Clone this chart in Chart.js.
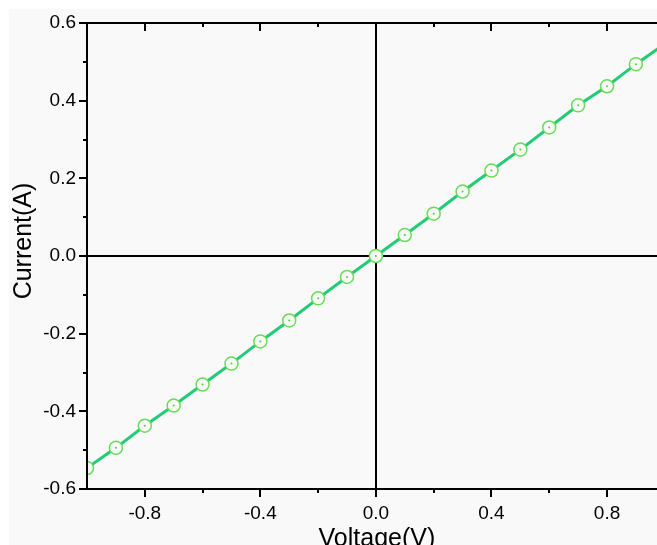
<!DOCTYPE html>
<html>
<head>
<meta charset="utf-8">
<script src="https://cdn.jsdelivr.net/npm/chart.js@4/dist/chart.umd.min.js"></script>
<style>
  html, body { margin: 0; padding: 0; background: #fff; }
  #wrap { width: 657px; height: 545px; position: relative; }
</style>
</head>
<body>
<div id="wrap"><canvas id="ivChart"></canvas></div>
<script>
// values
const voltage = [-1.0, -0.9, -0.8, -0.7, -0.6, -0.5, -0.4, -0.3, -0.2, -0.1, 0.0, 0.1, 0.2, 0.3, 0.4, 0.5, 0.6, 0.7, 0.8, 0.9, 1.0];
const current = [-0.546, -0.494, -0.437, -0.385, -0.331, -0.277, -0.220, -0.166, -0.109, -0.054, 0.0, 0.054, 0.109, 0.166, 0.220, 0.274, 0.331, 0.388, 0.437, 0.494, 0.546];
const hasMarker = [true, true, true, true, true, true, true, true, true, true, true, true, true, true, true, true, true, true, true, true, false];

const xMajor = [-0.8, -0.4, 0.0, 0.4, 0.8];
const xMinor = [-0.6, -0.2, 0.2, 0.6];
const yMajor = [-0.6, -0.4, -0.2, 0.0, 0.2, 0.4, 0.6];
const yMinor = [-0.5, -0.3, -0.1, 0.1, 0.3, 0.5];

const xTitle = 'Voltage(V)';
const yTitle = 'Current(A)';

const FONT = '"Liberation Sans", Arial, sans-serif';
const points = voltage.map((v, i) => ({ x: v, y: current[i] }));

const framePlugin = {
  id: 'frame',
  beforeDraw(chart) {
    const { ctx } = chart;
    ctx.save();
    ctx.fillStyle = '#f9f9f9';
    ctx.fillRect(9, 9, chart.width - 9, chart.height - 9);
    ctx.restore();
  },
  beforeDatasetsDraw(chart) {
    const { ctx, chartArea: a, scales: { x, y } } = chart;
    ctx.save();
    ctx.strokeStyle = '#000';
    ctx.lineWidth = 2;
    ctx.beginPath();
    const x0 = Math.round(x.getPixelForValue(0));
    const y0 = Math.round(y.getPixelForValue(0));
    ctx.moveTo(x0, a.top);
    ctx.lineTo(x0, a.bottom);
    ctx.moveTo(a.left, y0);
    ctx.lineTo(a.right, y0);
    ctx.stroke();
    ctx.restore();
  },
  afterDraw(chart) {
    const { ctx, chartArea: a, scales: { x, y } } = chart;
    ctx.save();
    ctx.strokeStyle = '#000';
    ctx.lineWidth = 2;
    ctx.beginPath();
    // left, bottom and top border
    ctx.moveTo(a.left, a.top);
    ctx.lineTo(a.left, a.bottom);
    ctx.moveTo(a.left - 1, a.bottom);
    ctx.lineTo(a.right, a.bottom);
    ctx.moveTo(a.left - 1, a.top);
    ctx.lineTo(a.right, a.top);
    // y ticks, outward
    yMajor.forEach((v) => {
      const p = Math.round(y.getPixelForValue(v));
      ctx.moveTo(a.left - 8, p);
      ctx.lineTo(a.left, p);
    });
    yMinor.forEach((v) => {
      const p = Math.round(y.getPixelForValue(v));
      ctx.moveTo(a.left - 4, p);
      ctx.lineTo(a.left, p);
    });
    // bottom ticks outward, top ticks inward
    xMajor.forEach((v) => {
      const p = Math.round(x.getPixelForValue(v));
      ctx.moveTo(p, a.bottom);
      ctx.lineTo(p, a.bottom + 8);
      ctx.moveTo(p, a.top);
      ctx.lineTo(p, a.top + 8);
    });
    xMinor.forEach((v) => {
      const p = Math.round(x.getPixelForValue(v));
      ctx.moveTo(p, a.bottom);
      ctx.lineTo(p, a.bottom + 4);
      ctx.moveTo(p, a.top);
      ctx.lineTo(p, a.top + 4);
    });
    ctx.stroke();

    // axis titles
    ctx.fillStyle = '#000';
    ctx.font = '25px ' + FONT;
    ctx.textAlign = 'center';
    ctx.textBaseline = 'alphabetic';
    ctx.fillText(xTitle, x.getPixelForValue(0) + 1, 546);
    ctx.translate(31, 241);
    ctx.rotate(-Math.PI / 2);
    ctx.fillText(yTitle, 0, 0);
    ctx.restore();
  },
};

new Chart(document.getElementById('ivChart'), {
  type: 'scatter',
  data: {
    datasets: [
      {
        label: 'I-V',
        data: points,
        showLine: true,
        borderColor: '#22cc77',
        borderWidth: 3,
        pointRadius: (c) => (hasMarker[c.dataIndex] ? 6.5 : 0),
        pointBorderColor: '#66dd55',
        pointBorderWidth: 1.5,
        pointBackgroundColor: '#f9f9f9',
        order: 2,
      },
      {
        label: 'centre',
        data: points,
        showLine: false,
        pointRadius: (c) => (hasMarker[c.dataIndex] ? 1 : 0),
        pointBorderWidth: 0,
        pointBackgroundColor: '#55cc44',
        order: 1,
      },
    ],
  },
  options: {
    responsive: true,
    maintainAspectRatio: false,
    devicePixelRatio: 1,
    animation: false,
    layout: { autoPadding: false, padding: { top: 23, left: 0, right: 0, bottom: 0 } },
    plugins: {
      legend: { display: false },
      tooltip: { enabled: false },
    },
    scales: {
      x: {
        type: 'linear',
        min: -1,
        max: 0.973,
        grid: { display: false, drawTicks: false },
        border: { display: false },
        afterBuildTicks: (scale) => {
          scale.ticks = xMajor.map((v) => ({ value: v }));
        },
        afterFit: (scale) => {
          scale.height = 56;
          scale.paddingLeft = 0;
          scale.paddingRight = 0;
        },
        ticks: {
          padding: 13,
          color: '#000',
          font: { family: FONT, size: 19 },
          callback: (v) => Number(v).toFixed(1),
        },
      },
      y: {
        type: 'linear',
        min: -0.6,
        max: 0.6,
        grid: { display: false, drawTicks: false },
        border: { display: false },
        afterBuildTicks: (scale) => {
          scale.ticks = yMajor.map((v) => ({ value: v }));
        },
        afterFit: (scale) => {
          scale.width = 87;
          scale.paddingTop = 0;
          scale.paddingBottom = 0;
        },
        ticks: {
          padding: 11,
          color: '#000',
          font: { family: FONT, size: 19 },
          callback: (v) => Number(v).toFixed(1),
        },
      },
    },
  },
  plugins: [framePlugin],
});
</script>
</body>
</html>
